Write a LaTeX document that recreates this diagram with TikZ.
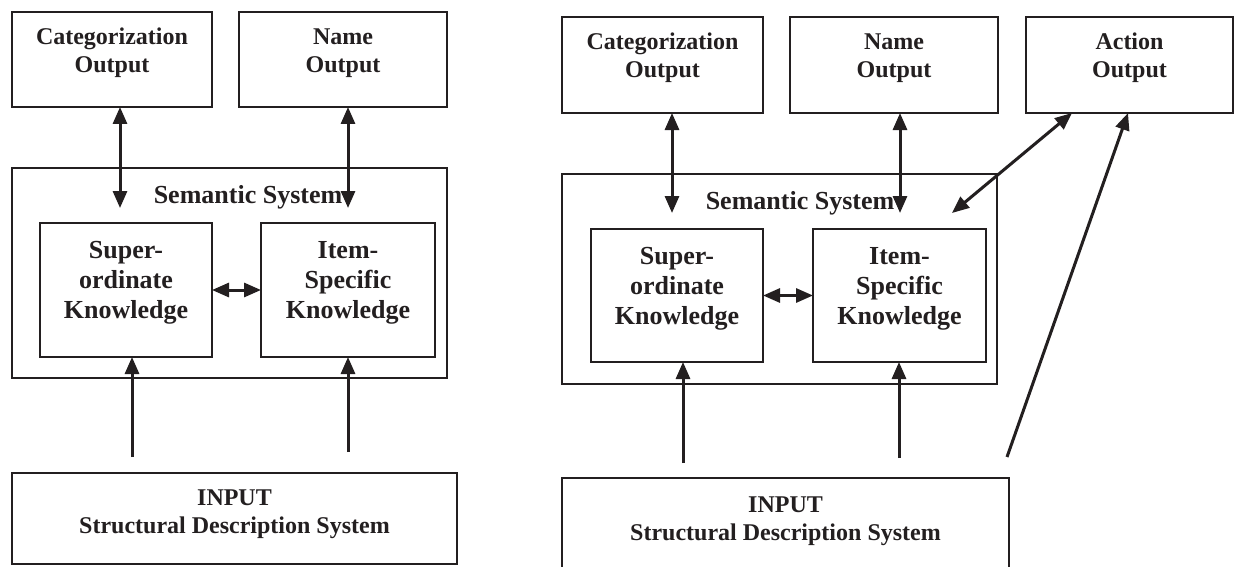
\documentclass[tikz,border=0pt]{standalone}
\usepackage{fontspec}
\setmainfont{Liberation Serif}
\usetikzlibrary{arrows.meta}
\definecolor{ink}{HTML}{231F20}
\begin{document}
\begin{tikzpicture}[x=1pt,y=-1pt,
  box/.style={draw=ink, line width=1.9pt, inner sep=0pt, outer sep=0pt},
  dim/.style args={#1x#2}{minimum width=#1pt, minimum height=#2pt},
  % multi-line labels: the base anchor sits on the last line's baseline
  outtxt/.style={text=ink, font=\bfseries\fontsize{24}{28}\selectfont, align=center, anchor=base, inner sep=0pt},
  intxt/.style={text=ink, font=\bfseries\fontsize{26}{30}\selectfont, align=center, anchor=base, inner sep=0pt},
  tip/.tip={Triangle[length=17pt,width=14pt]},
  link/.style={draw=ink, line width=3pt},
  dbl/.style={link, tip-tip},
  one/.style={link, -tip},
]
\clip (0,0) rectangle (1241,567);
\fill[white] (0,0) rectangle (1241,567);

% ---------- left model ----------
\node[box, dim=200x95]  (catL)  at (112,59.5)   {};
\node[box, dim=208x95]  (nameL) at (343,59.5)   {};
\node[box, dim=435x210] (semL)  at (229.5,273)  {};
\node[box, dim=172x134] (supL)  at (126,290)    {};
\node[box, dim=174x134] (itemL) at (348,290)    {};
\node[box, dim=445x91]  (inL)   at (234.5,518.5) {};

\node[outtxt] (catLt)  at (112,73)  {Categorization\\Output};
\node[outtxt] (nameLt) at (343,73)  {Name\\Output};
\node[intxt]  (semLt)  at (248,203) {Semantic System};
\node[intxt]  (supLt)  at (126,318) {Super-\\ordinate\\Knowledge};
\node[intxt]  (itemLt) at (348,318) {Item-\\Specific\\Knowledge};
\node[outtxt] (inLt)   at (234.5,533) {INPUT\\Structural Description System};

\coordinate (cL) at (120,208);
\coordinate (nL) at (348,208);
\coordinate (t1L) at (132,457);
\coordinate (t2L) at (348,452);

\draw[dbl] (catL.south -| cL) -- (cL);
\draw[dbl] (nameL.south -| nL) -- (nL);
\draw[dbl] (supL.east) -- (itemL.west);
\draw[one] (t1L) -- (t1L |- supL.south);
\draw[one] (t2L) -- (t2L |- itemL.south);

% ---------- right model ----------
\node[box, dim=201x96]  (catR)  at (662.5,65)   {};
\node[box, dim=208x96]  (nameR) at (894,65)     {};
\node[box, dim=207x96]  (actR)  at (1129.5,65)  {};
\node[box, dim=435x210] (semR)  at (779.5,279)  {};
\node[box, dim=172x133] (supR)  at (677,295.5)  {};
\node[box, dim=173x133] (itemR) at (899.5,295.5) {};
\node[box, dim=447x122] (inR)   at (785.5,539)  {};

\node[outtxt] (catRt)  at (662.5,78)  {Categorization\\Output};
\node[outtxt] (nameRt) at (894,78)    {Name\\Output};
\node[outtxt] (actRt)  at (1129.5,78) {Action\\Output};
\node[intxt]  (semRt)  at (800,209)   {Semantic System};
\node[intxt]  (supRt)  at (677,324)   {Super-\\ordinate\\Knowledge};
\node[intxt]  (itemRt) at (899.5,324) {Item-\\Specific\\Knowledge};
\node[outtxt] (inRt)   at (785.5,540) {INPUT\\Structural Description System};

\coordinate (cR) at (672,213);
\coordinate (nR) at (900,213);
\coordinate (aTop) at (1072,113);
\coordinate (aBot) at (952,213);
\coordinate (bTop) at (1128,113);
\coordinate (bBot) at (1007,457);
\coordinate (t1R) at (683,463);
\coordinate (t2R) at (899,458);

\draw[dbl] (catR.south -| cR) -- (cR);
\draw[dbl] (nameR.south -| nR) -- (nR);
\draw[dbl] (aTop) -- (aBot);
\draw[one] (bBot) -- (bTop);
\draw[dbl] (supR.east) -- (itemR.west);
\draw[one] (t1R) -- (t1R |- supR.south);
\draw[one] (t2R) -- (t2R |- itemR.south);
\end{tikzpicture}
\end{document}
